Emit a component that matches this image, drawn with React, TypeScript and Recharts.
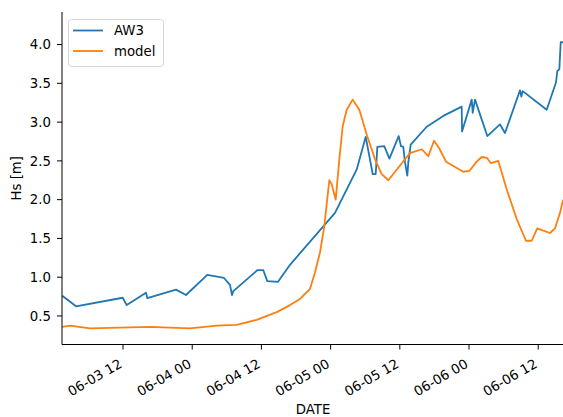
import React from 'react';
import { LineChart, Line, XAxis, YAxis, Legend } from 'recharts';

// hours since 06-03 00:00
const awHours = [
  1.47, 3.85, 11.95, 12.64, 15.99, 16.21, 21.19, 22.92, 26.62, 29.51, 30.55, 30.9, 31.13,
  35.29, 36.33, 37.02, 38.88, 40.96, 48.76, 52.53, 54.09, 55.3, 55.82, 56.1, 57.3, 58.2,
  59.8, 60.2, 60.6, 60.9, 61.3, 61.47, 61.89, 64.66, 67.54, 70.73, 70.79, 72.47, 72.64,
  73.04, 75.17, 77.37, 78.24, 80.84, 81.07, 81.31, 85.47, 87.08, 87.31, 87.66, 87.9, 88.3,
];
const awValues = [
  0.76, 0.625, 0.735, 0.64, 0.8, 0.73, 0.84, 0.77, 1.03, 0.99, 0.9, 0.77, 0.82,
  1.09, 1.09, 0.95, 0.94, 1.16, 1.83, 2.39, 2.81, 2.33, 2.33, 2.68, 2.69, 2.53,
  2.82, 2.69, 2.68, 2.48, 2.31, 2.48, 2.71, 2.94, 3.08, 3.2, 2.88, 3.29, 3.12,
  3.29, 2.82, 2.97, 2.86, 3.41, 3.33, 3.4, 3.16, 3.51, 3.66, 3.68, 4.03, 4.03,
];

const modelHours = [
  1.47, 2.81, 6.28, 16.68, 23.62, 28.25, 31.72, 35.18, 38.65, 40.96, 42.69, 44.43, 45.29,
  46.16, 46.91, 47.77, 48.19, 48.88, 49.51, 50.1, 50.79, 51.83, 52.98, 54.26, 55.7, 56.86,
  58.01, 60.03, 61.77, 63.8, 64.94, 65.93, 66.85, 68.01, 71.01, 72.05, 73.33, 74.2, 75.07,
  75.81, 77.08, 78.54, 80.27, 81.88, 82.87, 83.84, 84.88, 86.04, 86.91, 87.78, 88.3,
];
const modelValues = [
  0.36, 0.375, 0.34, 0.36, 0.34, 0.375, 0.385, 0.45, 0.55, 0.64, 0.72, 0.85, 1.06,
  1.32, 1.66, 2.25, 2.2, 2.0, 2.52, 2.95, 3.16, 3.29, 3.16, 2.84, 2.52, 2.33,
  2.25, 2.44, 2.6, 2.65, 2.56, 2.76, 2.66, 2.49, 2.36, 2.37, 2.49, 2.55, 2.54,
  2.47, 2.5, 2.13, 1.75, 1.47, 1.47, 1.63, 1.6, 1.57, 1.63, 1.83, 2.0,
];

const xTickHours = [12, 24, 36, 48, 60, 72, 84];
const xTickLabels = ['06-03 12', '06-04 00', '06-04 12', '06-05 00', '06-05 12', '06-06 00', '06-06 12'];
const yTicks = [0.5, 1.0, 1.5, 2.0, 2.5, 3.0, 3.5, 4.0];

const seriesNames = ['AW3', 'model'];
const seriesColors = ['#1f77b4', '#ff7f0e'];

const awData = awHours.map((h, i) => ({ h, v: awValues[i] }));
const modelData = modelHours.map((h, i) => ({ h, v: modelValues[i] }));

const FONT = '"DejaVu Sans", sans-serif';
const FS = 13.3;
const LW = 1.8;

function XTick(props: any) {
  const { x, y, payload } = props;
  const idx = xTickHours.indexOf(payload.value);
  const label = idx >= 0 ? xTickLabels[idx] : '';
  return (
    <g transform={`translate(${x},${y + 17})`}>
      <text transform="rotate(-30)" textAnchor="end" fontFamily={FONT} fontSize={FS} fill="#000">
        {label}
      </text>
    </g>
  );
}

function YLabel(props: any) {
  const vb = props.viewBox || { y: 12, height: 332 };
  const cy = vb.y + vb.height / 2;
  return (
    <text
      x={21}
      y={cy}
      transform={`rotate(-90, 21, ${cy})`}
      textAnchor="middle"
      fontFamily={FONT}
      fontSize={FS}
      fill="#000"
    >
      Hs [m]
    </text>
  );
}

function LegendBox() {
  return (
    <svg width={96} height={48} style={{ display: 'block' }}>
      <rect x={0.5} y={0.5} width={95} height={47} rx={3} ry={3} fill="rgba(255,255,255,0.8)" stroke="#d6d6d6" strokeWidth={1} />
      {seriesNames.map((name, i) => (
        <g key={name}>
          <line x1={5} x2={35} y1={11.5 + i * 20.5} y2={11.5 + i * 20.5} stroke={seriesColors[i]} strokeWidth={LW} />
          <text x={46} y={11.5 + i * 20.5 + 4.8} fontFamily={FONT} fontSize={FS} fill="#000">
            {name}
          </text>
        </g>
      ))}
    </svg>
  );
}

export default function App() {
  return (
    <div style={{ position: 'absolute', left: 0, top: 0, width: 563, height: 417, overflow: 'hidden', background: '#fff' }}>
      <LineChart width={566} height={417} margin={{ top: 12, right: 2, bottom: 0, left: 0 }}>
        <XAxis
          dataKey="h"
          type="number"
          domain={[1.42, 88.47]}
          allowDataOverflow
          ticks={xTickHours}
          interval={0}
          height={72.5}
          tickSize={5}
          tickMargin={0}
          tick={<XTick />}
          stroke="#000"
          axisLine={{ stroke: '#000', strokeWidth: 1 }}
          tickLine={{ stroke: '#000', strokeWidth: 1 }}
          label={{ value: 'DATE', position: 'insideBottom', offset: 3, fontFamily: FONT, fontSize: FS, fill: '#000' }}
        />
        <XAxis
          xAxisId="top"
          orientation="top"
          dataKey="h"
          type="number"
          domain={[1.42, 88.47]}
          allowDataOverflow
          height={0}
          tick={false}
          tickLine={false}
          axisLine={{ stroke: '#000', strokeWidth: 1 }}
        />
        <YAxis
          type="number"
          domain={[0.132, 4.42]}
          allowDataOverflow
          ticks={yTicks}
          interval={0}
          width={62}
          tickSize={5}
          tickMargin={6}
          tickFormatter={(v: number) => v.toFixed(1)}
          tick={{ fontFamily: FONT, fontSize: FS, fill: '#000' }}
          axisLine={{ stroke: '#000', strokeWidth: 1 }}
          tickLine={{ stroke: '#000', strokeWidth: 1 }}
          label={<YLabel />}
        />
        <Legend
          layout="horizontal"
          verticalAlign="middle"
          align="center"
          wrapperStyle={{ position: 'absolute', left: 68, top: 19, width: 96, height: 48 }}
          content={() => <LegendBox />}
        />
        <Line
          data={awData}
          dataKey="v"
          name={seriesNames[0]}
          type="linear"
          stroke={seriesColors[0]}
          strokeWidth={LW}
          strokeLinejoin="round"
          dot={false}
          activeDot={false}
          isAnimationActive={false}
        />
        <Line
          data={modelData}
          dataKey="v"
          name={seriesNames[1]}
          type="linear"
          stroke={seriesColors[1]}
          strokeWidth={LW}
          strokeLinejoin="round"
          dot={false}
          activeDot={false}
          isAnimationActive={false}
        />
      </LineChart>
    </div>
  );
}
